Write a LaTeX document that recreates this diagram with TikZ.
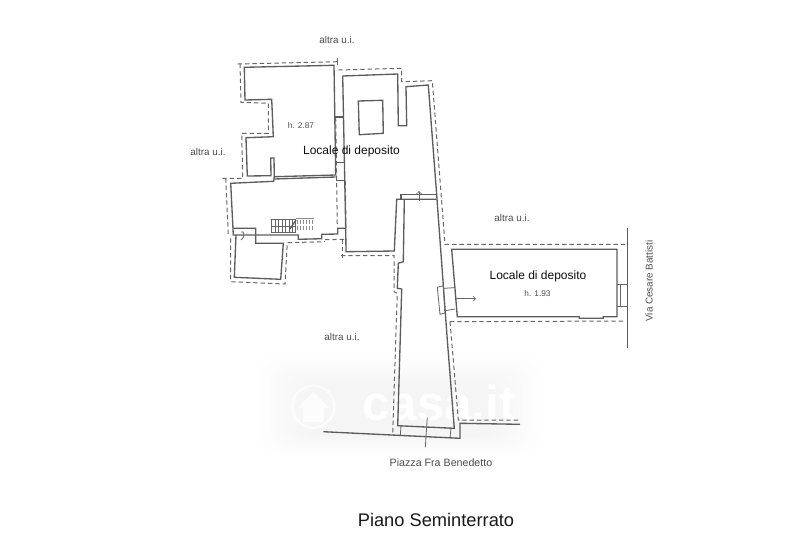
\documentclass[tikz,border=0pt]{standalone}
\usepackage{fontspec}
\setmainfont{Liberation Sans}
\tikzset{
  wall/.style={draw=black!64, line width=1pt},
  thinwall/.style={draw=black!60, line width=0.6pt},
  bound/.style={draw=black!60, line width=0.75pt, dash pattern=on 3.3pt off 2.2pt},
  label/.style={text=black!70, font=\fontsize{7.4}{8}\selectfont, inner sep=0pt},
  small/.style={text=black!70, font=\fontsize{6.2}{7}\selectfont, inner sep=0pt},
  roomname/.style={text=black!95, font=\fontsize{9}{10}\selectfont, inner sep=0pt},
}
\begin{document}
\begin{tikzpicture}[x=0.75pt, y=-0.75pt]
\useasboundingbox (0,0) rectangle (800,533);
% watermark
\foreach \i in {0,...,15} {
  \pgfmathsetmacro{\ink}{0.25*\i+0.2}
  \fill[black!\ink, rounded corners=14pt] (258+3*\i,354+2*\i) rectangle (542-3*\i,454-1.2*\i);
}
\node[text=white, font=\bfseries\fontsize{37}{37}\selectfont, inner sep=0pt] (brand) at (439,403) {casa.it};
\draw[black!1, line width=2pt] (313.3,406.7) circle (21);
\fill[black!1] (297,408) -- (313.3,392) -- (329.6,408) -- (324,408) -- (324,422) -- (303,422) -- (303,408) -- cycle;
% upper room
\draw[wall] (244.3,67.3) -- (334,65.3) -- (335.7,175) -- (274.3,176.7) -- (274,158) -- (270.7,158) -- (271,175.7) -- (247.3,176) -- (246,137.7) -- (273.3,136.7) -- (271.7,99.3) -- (245,100) -- cycle;
% lower room
\draw[wall] (274.3,179) -- (335.7,177);
\draw[wall] (274.3,176.7) -- (273.7,181.3) -- (230.7,183.3) -- (233.3,235) -- (298.3,235) -- (298.3,239.3) -- (321.7,238.7) -- (321.7,234.3) -- (337.7,234) -- (337.7,228.3) -- (345.7,228.3);
\draw[wall] (233.3,228.3) -- (255.7,228.3) -- (255.7,243.3) -- (283.3,243.3) -- (280.7,279.3) -- (234.3,277.3) -- (236,235);
% stairs
\draw[thinwall] (271.7,219.3) rectangle (295,232.7);
\foreach \x in {275,278.5,282,285.5,289,292.5} \draw[thinwall] (\x,219.3) -- (\x,232.7);
\draw[thinwall] (271.7,226) -- (295,226);
\draw[wall] (296,220) -- (290,229);
\foreach \x in {297,300,303,306,309,312} {
  \draw[thinwall, black!45] (\x,220) -- (\x,224);
  \draw[thinwall, black!45] (\x,226) -- (\x,230);
}
\draw[thinwall, black!45] (296,218.5) -- (314,218.5);
\draw[thinwall] (241,232) .. controls (245,230) and (245,238) .. (241,240);
% right room
\draw[wall] (342.7,76) -- (397.7,74) -- (398.3,125.7) -- (406.7,125.7) -- (406,86.7) -- (428.3,85) -- (436.7,195);
\draw[wall] (342.7,76) -- (345.7,228.3) -- (346,251.7) -- (394.3,251) -- (396.7,199.3) -- (436.7,199.3);
\draw[wall] (401,199.3) -- (401,194.7) -- (436.7,194.7);
\draw[thinwall, ->, >=to] (419,201) -- (419,191);
\draw[wall] (358.3,101) -- (382.7,100.3) -- (383.3,133.3) -- (359.3,134.7) -- cycle;
% passages between rooms
\draw[wall] (335,117) -- (343.5,117);
\draw[wall] (335.7,162.7) -- (344.5,162.7);
\draw[wall] (336,180.7) -- (344.5,180.7);
% corridor
\draw[wall] (404.3,200) -- (403.3,261.7) -- (398.3,263.3) -- (397.3,288.3) -- (401.7,289) -- (397.7,425.7) -- (454.3,428.3) -- (447.3,340) -- (436.7,195);
\draw[wall] (323.3,431.7) -- (460,438.3) -- (460,423.3) -- (520,424.3);
\draw[thinwall] (401,425.7) -- (400.3,435.7);
\draw[thinwall] (451,428.3) -- (450,437.7);
\draw[thinwall] (427.3,417.3) -- (425.3,447.3);
% right unit
\draw[wall] (451.7,249.3) -- (617,249.3) -- (617,316.7) -- (603.3,316.7) -- (603.3,318.3) -- (579.3,318.3) -- (579.3,316.7) -- (457.3,316.7) -- cycle;
\draw[thinwall] (444,288.3) -- (454,287.7);
\draw[thinwall] (445,310.7) -- (455,309);
\draw[thinwall] (437.3,287.3) -- (443.3,285.7) -- (445,313) -- (440,314.3) -- cycle;
\draw[thinwall, ->, >=to] (455.7,298.7) -- (476,298.7);
\draw[thinwall] (617,284.3) -- (627.3,284.3);
\draw[thinwall] (617,306.7) -- (627.3,306.7);
\draw[thinwall] (620.7,284.3) -- (620.7,306.7);
\draw[wall] (627.3,228.3) -- (627.3,348.3);
% boundary
\draw[bound] (237.7,64) -- (337.7,61.7);
\draw[thinwall] (337.7,58.3) -- (337.7,65);
\draw[bound] (240,64) -- (241,102.3) -- (268.3,103.3) -- (268.3,133.3) -- (241.7,133.3) -- (242.7,178.3) -- (222.3,178.3);
\draw[bound] (225.7,178.3) -- (228.3,235);
\draw[bound] (230.7,238.3) -- (230.7,281.7) -- (285,284) -- (287.3,242.7) -- (325,241.7);
\draw[bound] (325,239.7) -- (345,239.3);
\draw[bound] (342.3,239.3) -- (342.3,258.3);
\draw[bound] (341,255.7) -- (394,255.7) -- (394,291.7) -- (397.3,293.3) -- (392.7,433.3);
\draw[bound] (335.7,117) -- (337.3,227);
\draw[bound] (345.3,180.7) -- (346,228);
\draw[bound] (338.3,70) -- (401.7,68.3) -- (401.7,81.7) -- (432.3,80.7) -- (445,244.3) -- (627,244.3);
\draw[bound] (450,321.7) -- (625,321);
\draw[bound] (450,321.7) -- (453.3,360) -- (458.3,420) -- (520,420);
% labels
\node[label] (altraTop) at (337,39.5) {altra u.i.};
\node[label] (altraLeft) at (208,151.5) {altra u.i.};
\node[label] (altraRight) at (512,217.5) {altra u.i.};
\node[label] (altraLow) at (342,337) {altra u.i.};
\node[small] (heightA) at (301,126) {h. 2.87};
\node[small] (heightB) at (537.5,294) {h. 1.93};
\node[roomname] (roomA) at (351.5,151.5) {Locale di deposito};
\node[roomname] (roomB) at (538,276) {Locale di deposito};
\node[label, rotate=90] (street) at (649,281) {Via Cesare Battisti};
\node[label, font=\fontsize{8}{9}\selectfont] (square) at (441,463) {Piazza Fra Benedetto};
\node[text=black!90, font=\fontsize{13.7}{15}\selectfont, inner sep=0pt] (title) at (436,519.5) {Piano Seminterrato};
\end{tikzpicture}
\end{document}
